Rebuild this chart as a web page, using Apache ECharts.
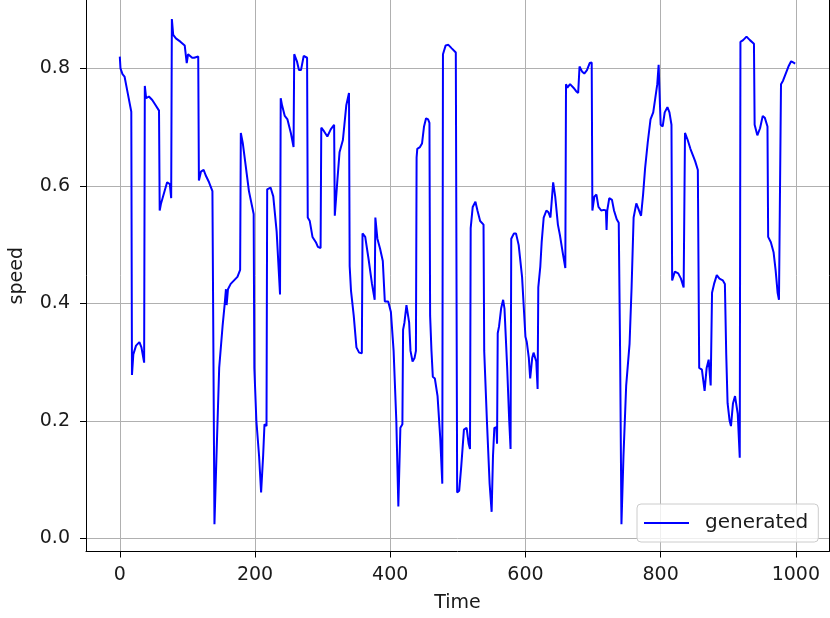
<!DOCTYPE html>
<html>
<head>
<meta charset="utf-8">
<title>speed</title>
<script src="https://cdn.jsdelivr.net/npm/echarts@6/dist/echarts.min.js"></script>
<style>
  html, body { margin: 0; padding: 0; background: #fff; }
  #chart { width: 830px; height: 618px; }
</style>
</head>
<body>
<div id="chart"></div>
<script>
// values (vertices of the line)
const time = [
  0, 1, 4, 7, 11, 17, 18, 20, 24, 29, 32, 36, 37, 39, 43, 48, 53, 58, 59, 61,
  63, 67, 70, 74, 76, 77, 79, 83, 90, 96, 99, 101, 107, 110, 112, 116, 117, 120, 124, 127,
  132, 137, 140, 143, 147, 152, 155, 157, 158, 160, 164, 169, 174, 178, 179, 182, 186, 191, 198, 199,
  202, 206, 209, 212, 214, 217, 218, 223, 227, 232, 237, 238, 240, 244, 248, 253, 257, 258, 262, 265,
  268, 272, 277, 278, 281, 285, 290, 293, 297, 298, 302, 307, 312, 317, 318, 322, 325, 330, 335, 339,
  340, 342, 346, 350, 354, 358, 359, 363, 368, 373, 377, 378, 381, 385, 389, 392, 397, 401, 405, 409,
  412, 415, 418, 419, 421, 424, 428, 430, 433, 436, 438, 439, 440, 444, 447, 450, 453, 456, 458, 459,
  461, 463, 466, 470, 474, 477, 478, 479, 482, 486, 491, 497, 499, 502, 505, 509, 513, 516, 518, 519,
  522, 526, 529, 533, 538, 539, 543, 547, 550, 552, 554, 557, 558, 559, 561, 564, 567, 569, 573, 576,
  578, 579, 583, 586, 590, 595, 600, 602, 605, 607, 610, 612, 616, 618, 619, 622, 624, 627, 631, 634,
  637, 641, 644, 648, 651, 655, 659, 660, 662, 666, 671, 675, 678, 680, 684, 687, 691, 695, 698, 699,
  702, 705, 708, 712, 716, 719, 720, 721, 724, 728, 731, 735, 738, 740, 742, 745, 749, 754, 757, 760,
  764, 767, 771, 774, 777, 781, 785, 789, 792, 795, 797, 799, 800, 803, 806, 810, 813, 816, 817, 821,
  826, 830, 834, 836, 840, 844, 848, 851, 855, 857, 861, 865, 868, 871, 874, 876, 879, 883, 887, 892,
  895, 897, 899, 902, 904, 907, 910, 914, 917, 918, 922, 927, 932, 938, 939, 943, 947, 951, 954, 958,
  959, 963, 967, 970, 973, 975, 977, 978, 981, 985, 989, 993, 996, 999
];
const speed = [
  0.820, 0.800, 0.790, 0.786, 0.762, 0.726, 0.278, 0.313, 0.328, 0.334, 0.325, 0.299, 0.770, 0.749, 0.752, 0.746, 0.737, 0.728, 0.558, 0.570,
  0.573, 0.594, 0.606, 0.603, 0.579, 0.884, 0.857, 0.851, 0.845, 0.839, 0.809, 0.824, 0.818, 0.818, 0.815, 0.820, 0.609, 0.624, 0.627, 0.618,
  0.606, 0.591, 0.024, 0.140, 0.290, 0.361, 0.397, 0.424, 0.397, 0.424, 0.433, 0.439, 0.445, 0.457, 0.690, 0.672, 0.636, 0.591, 0.552, 0.290,
  0.200, 0.140, 0.078, 0.140, 0.194, 0.191, 0.594, 0.597, 0.582, 0.522, 0.415, 0.749, 0.737, 0.719, 0.713, 0.690, 0.666, 0.824, 0.812, 0.797,
  0.797, 0.821, 0.818, 0.546, 0.540, 0.513, 0.504, 0.496, 0.494, 0.699, 0.693, 0.684, 0.696, 0.704, 0.549, 0.612, 0.657, 0.678, 0.737, 0.758,
  0.463, 0.421, 0.379, 0.325, 0.316, 0.315, 0.519, 0.513, 0.475, 0.433, 0.406, 0.546, 0.510, 0.493, 0.472, 0.403, 0.403, 0.385, 0.319, 0.200,
  0.054, 0.188, 0.194, 0.355, 0.367, 0.397, 0.367, 0.319, 0.301, 0.307, 0.319, 0.648, 0.663, 0.666, 0.672, 0.701, 0.715, 0.713, 0.707, 0.379,
  0.319, 0.275, 0.272, 0.242, 0.170, 0.093, 0.824, 0.827, 0.839, 0.840, 0.834, 0.827, 0.078, 0.081, 0.122, 0.185, 0.188, 0.161, 0.152, 0.528,
  0.564, 0.573, 0.558, 0.540, 0.534, 0.319, 0.200, 0.093, 0.045, 0.140, 0.188, 0.189, 0.161, 0.349, 0.361, 0.391, 0.406, 0.391, 0.290, 0.200,
  0.152, 0.510, 0.519, 0.519, 0.499, 0.445, 0.343, 0.334, 0.307, 0.272, 0.307, 0.316, 0.301, 0.254, 0.427, 0.463, 0.504, 0.546, 0.558, 0.555,
  0.546, 0.606, 0.582, 0.534, 0.516, 0.487, 0.460, 0.773, 0.767, 0.773, 0.767, 0.761, 0.758, 0.803, 0.794, 0.791, 0.797, 0.809, 0.810, 0.558,
  0.582, 0.585, 0.564, 0.558, 0.559, 0.558, 0.525, 0.558, 0.579, 0.576, 0.558, 0.543, 0.537, 0.319, 0.024, 0.140, 0.260, 0.331, 0.427, 0.546,
  0.570, 0.561, 0.549, 0.585, 0.630, 0.675, 0.713, 0.725, 0.749, 0.773, 0.806, 0.737, 0.704, 0.701, 0.725, 0.734, 0.725, 0.704, 0.439, 0.454,
  0.451, 0.442, 0.427, 0.690, 0.678, 0.663, 0.651, 0.642, 0.627, 0.290, 0.287, 0.251, 0.290, 0.304, 0.260, 0.418, 0.433, 0.448, 0.442, 0.439,
  0.433, 0.313, 0.230, 0.200, 0.191, 0.230, 0.242, 0.212, 0.137, 0.845, 0.848, 0.854, 0.848, 0.842, 0.704, 0.686, 0.698, 0.719, 0.716, 0.701,
  0.513, 0.504, 0.487, 0.457, 0.418, 0.406, 0.406, 0.773, 0.779, 0.791, 0.803, 0.812, 0.810, 0.808
];
const xTicks = [0, 200, 400, 600, 800, 1000];
const yTicks = [0, 0.2, 0.4, 0.6, 0.8];

const seriesData = time.map((t, i) => [t, speed[i]]);

const font = 'DejaVu Sans';
const textColor = '#1a1a1a';
const yMin = -0.0225;
const yMax = 0.9163;
const myChart = echarts.init(document.getElementById('chart'));

// the plot's top edge is cut off by the picture, so the y range ends at the canvas top
const option = {
  animation: false,
  backgroundColor: '#ffffff',
  textStyle: { fontFamily: font },
  grid: {
    left: 84,
    top: 0,
    width: 745,
    height: 551.5
  },
  legend: {
    left: 637,
    top: 504,
    padding: [9, 10, 9, 6],
    itemWidth: 45,
    itemHeight: 18,
    itemStyle: { opacity: 0 },
    backgroundColor: 'rgba(255,255,255,0.8)',
    borderColor: '#cccccc',
    borderWidth: 1,
    borderRadius: 4,
    textStyle: { fontFamily: font, fontSize: 20, color: textColor, padding: [0, 0, 0, 11] },
    data: ['generated']
  },
  xAxis: {
    type: 'value',
    min: -50,
    max: 1049,
    name: 'Time',
    nameLocation: 'middle',
    nameGap: 42,
    nameTextStyle: { fontFamily: font, fontSize: 19, color: textColor },
    axisLine: { show: true, onZero: false, lineStyle: { color: '#000', width: 1 } },
    axisTick: { show: true, length: 6, customValues: xTicks, lineStyle: { color: '#000' } },
    axisLabel: {
      customValues: xTicks,
      margin: 14,
      fontFamily: font,
      fontSize: 19,
      color: textColor,
      formatter: v => String(v)
    },
    splitLine: { show: true, lineStyle: { color: '#b0b0b0', width: 1 } }
  },
  yAxis: [
    {
      type: 'value',
      min: yMin,
      max: yMax,
      name: 'speed',
      nameLocation: 'middle',
      nameRotate: 90,
      nameGap: 59,
      nameTextStyle: { fontFamily: font, fontSize: 19, color: textColor },
      axisLine: { show: true, onZero: false, lineStyle: { color: '#000', width: 1 } },
      axisTick: { show: true, length: 6, customValues: yTicks, lineStyle: { color: '#000' } },
      axisLabel: {
        customValues: yTicks,
        margin: 16,
        fontFamily: font,
        fontSize: 19,
        color: textColor,
        formatter: v => v.toFixed(1)
      },
      splitLine: { show: true, lineStyle: { color: '#b0b0b0', width: 1 } }
    },
    {
      // right spine only
      type: 'value',
      position: 'right',
      min: yMin,
      max: yMax,
      axisLine: { show: true, onZero: false, lineStyle: { color: '#000', width: 1 } },
      axisTick: { show: false },
      axisLabel: { show: false },
      splitLine: { show: false }
    }
  ],
  series: [
    {
      name: 'generated',
      type: 'line',
      data: seriesData,
      symbol: 'none',
      showSymbol: false,
      lineStyle: { color: '#0000ff', width: 2 },
      itemStyle: { color: '#0000ff' }
    }
  ]
};

myChart.setOption(option);
</script>
</body>
</html>
